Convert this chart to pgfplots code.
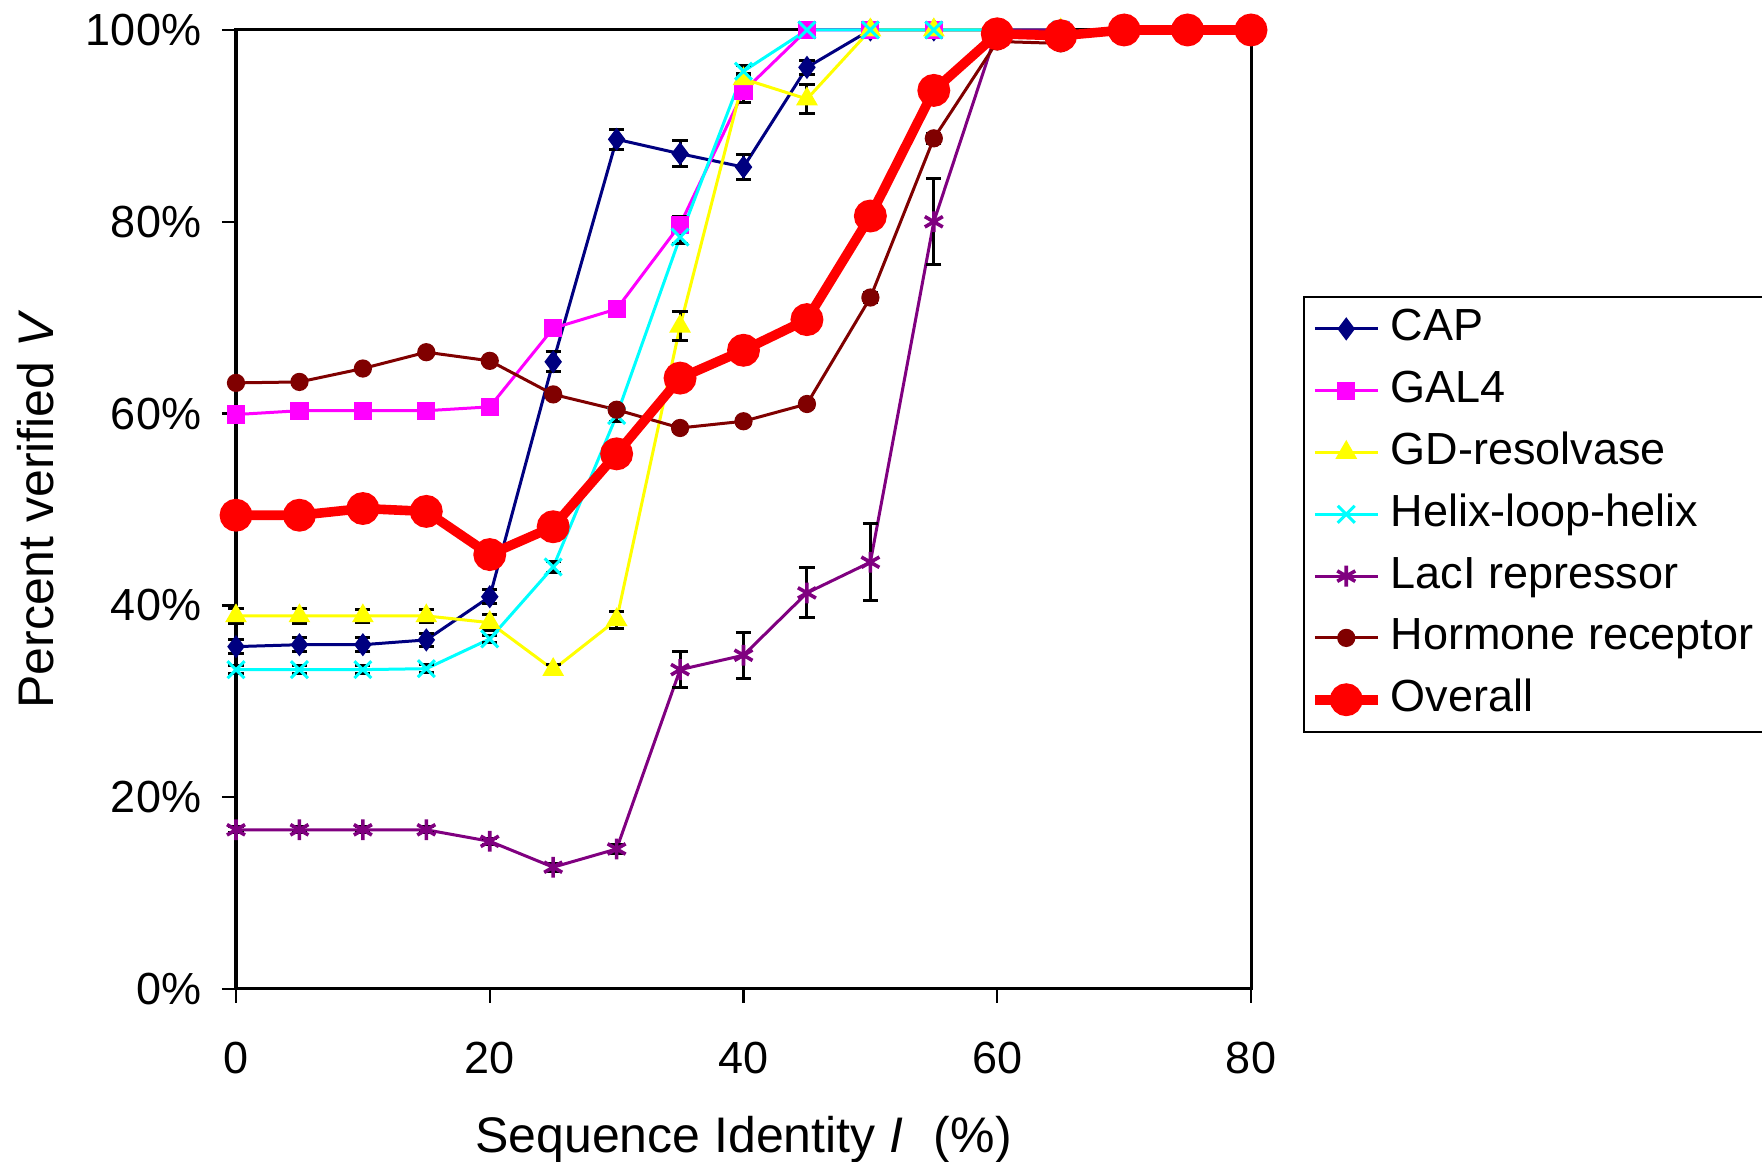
\documentclass[border=0pt]{standalone}
\usepackage{pgfplots}
\pgfplotsset{compat=1.18}
\usepackage{fontspec}
\setmainfont{Liberation Sans}
\definecolor{capc}{RGB}{0,0,128}
\definecolor{galc}{RGB}{255,0,255}
\definecolor{gdc}{RGB}{255,255,0}
\definecolor{hlhc}{RGB}{0,255,255}
\definecolor{lacc}{RGB}{128,0,128}
\definecolor{horc}{RGB}{128,0,0}
\definecolor{allc}{RGB}{255,0,0}
\begin{document}
\begin{tikzpicture}
\begin{axis}[
  name=ax,
  width=253.75pt, height=239.75pt, scale only axis,
  xmin=0, xmax=80, ymin=0, ymax=100,
  xtick={0,20,40,60,80}, ytick={0,20,40,60,80,100},
  yticklabel={\pgfmathprintnumber{\tick}\%},
  /pgf/number format/assume math mode=true,
  tick align=outside, tick pos=left, major tick length=3.5pt,
  tick style={black, line width=0.6pt},
  axis line style={line width=0.75pt},
  ticklabel style={font=\fontsize{11.25}{13}\selectfont},
  xticklabel style={yshift=-6.2pt},
  yticklabel style={xshift=-1.7pt},
  xlabel={Sequence Identity \textit{I}\,\, (\%)},
  ylabel={Percent verified \textit{V}},
  every axis x label/.style={at={(axis description cs:0.5,-0.1314)}, anchor=north, inner sep=0pt, font=\fontsize{12.5}{14}\selectfont},
  every axis y label/.style={at={(axis description cs:-0.216,0.5)}, rotate=90, anchor=north, inner sep=0pt, font=\fontsize{12.5}{14}\selectfont},
  clip=false,
  error bars/error bar style={black, line width=0.75pt, solid},
  error bars/error mark options={black, rotate=90, mark size=1.9pt, line width=0.75pt, solid},
  legend cell align=left,
  legend style={at={(axis description cs:1.0512,0.7227)}, anchor=north west,
    draw=black, line width=0.5pt, font=\fontsize{11.25}{13}\selectfont,
    inner xsep=1.5pt, inner ysep=0.5pt, row sep=0.45pt,
    nodes={inner sep=2pt, text height=8.5pt, text depth=2.5pt}},
  legend image code/.code={\draw[mark repeat=2,mark phase=2,#1] plot coordinates {(0pt,0pt) (7.875pt,0pt) (15.75pt,0pt)};},
]
% CAP
\addplot[capc, line width=0.75pt, mark=diamond*, mark size=2.3pt, mark options={fill=capc, solid},
  error bars/.cd, y dir=both, y explicit] table[x=x, y=y, y error=e] {
x y e
0 35.7 0.7
5 35.9 0.7
10 35.9 0.7
15 36.4 0.65
20 40.9 0.75
25 65.4 1.05
30 88.6 1.05
35 87.1 1.35
40 85.7 1.3
45 96.1 0.7
50 100 0
55 100 0
60 100 0
65 100 0
};
\addlegendentry{CAP}
% GAL4
\addplot[galc, line width=0.75pt, mark=square*, mark size=1.9pt, mark options={fill=galc, solid},
  error bars/.cd, y dir=both, y explicit] table[x=x, y=y, y error=e] {
x y e
0 59.9 0.4
5 60.3 0.4
10 60.3 0.4
15 60.3 0.4
20 60.7 0.4
25 68.9 0.5
30 70.9 0.5
35 79.7 0.8
40 93.6 1.2
45 100 0
50 100 0
55 100 0
60 100 0
65 100 0
};
\addlegendentry{GAL4}
% GD-resolvase
\addplot[gdc, line width=0.75pt, mark=triangle*, mark size=2.4pt, mark options={fill=gdc, solid},
  error bars/.cd, y dir=both, y explicit] table[x=x, y=y, y error=e] {
x y e
0 38.9 0.75
5 38.9 0.75
10 38.9 0.7
15 38.9 0.7
20 38.2 0.8
25 33.3 0.5
30 38.5 0.9
35 69.1 1.5
40 94.9 0.6
45 92.8 1.56
50 100 0
55 100 0
60 100 0
65 100 0
};
\addlegendentry{GD-resolvase}
% Helix-loop-helix
\addplot[hlhc, line width=0.75pt, mark=x, mark size=3pt, mark options={solid, line width=0.75pt},
  error bars/.cd, y dir=both, y explicit] table[x=x, y=y, y error=e] {
x y e
0 33.3 0.4
5 33.3 0.4
10 33.3 0.4
15 33.4 0.4
20 36.5 0.4
25 44.0 0.6
30 59.8 0.6
35 78.4 0.7
40 95.7 0.6
45 100 0
50 100 0
55 100 0
60 100 0
65 100 0
};
\addlegendentry{Helix-loop-helix}
% LacI repressor
\addplot[lacc, line width=0.75pt, mark=asterisk, mark size=2.6pt, mark options={solid, line width=0.9pt},
  error bars/.cd, y dir=both, y explicit] table[x=x, y=y, y error=e] {
x y e
0 16.6 0.3
5 16.6 0.3
10 16.6 0.3
15 16.6 0.3
20 15.4 0.3
25 12.7 0.4
30 14.6 0.5
35 33.3 1.9
40 34.8 2.4
45 41.3 2.6
50 44.5 4.0
55 80.0 4.5
60 100 0
65 100 0
};
\addlegendentry{LacI repressor}
% Hormone receptor
\addplot[horc, line width=0.75pt, mark=*, mark size=1.9pt, mark options={fill=horc, solid},
  error bars/.cd, y dir=both, y explicit] table[x=x, y=y, y error=e] {
x y e
0 63.2 0.3
5 63.3 0.3
10 64.7 0.3
15 66.4 0.3
20 65.5 0.3
25 62.0 0.4
30 60.4 0.4
35 58.5 0.4
40 59.2 0.4
45 61.0 0.4
50 72.1 0.5
55 88.7 0.5
60 98.8 0.3
65 98.6 0.3
};
\addlegendentry{Hormone receptor}
% Overall
\addplot[allc, line width=2.4pt, mark=*, mark size=2.9pt, mark options={fill=allc, solid}] table[x=x, y=y] {
x y
0 49.4
5 49.4
10 50.1
15 49.8
20 45.3
25 48.2
30 55.8
35 63.7
40 66.6
45 69.8
50 80.6
55 93.7
60 99.6
65 99.4
70 100
75 100
80 100
};
\addlegendentry{Overall}
\end{axis}
\pgfresetboundingbox
\path ([shift={(-59pt,-43.25pt)}]ax.south west) rectangle ([shift={(381.5pt,247.25pt)}]ax.south west);
\end{tikzpicture}
\end{document}
